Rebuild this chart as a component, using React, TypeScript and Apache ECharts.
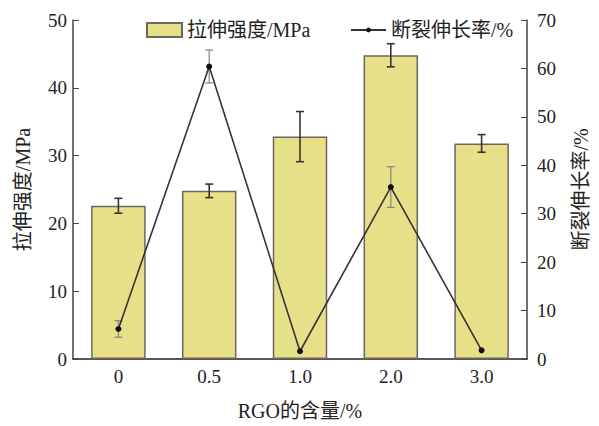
import React, { useEffect, useRef } from "react";
import * as echarts from "echarts";

const categories = ["0", "0.5", "1.0", "2.0", "3.0"];
const strength = [22.6, 24.8, 32.8, 44.8, 31.8];
const strengthErr = [1.1, 1.0, 3.7, 1.7, 1.3];
const elongation = [6.2, 60.4, 1.6, 35.5, 1.8];
const elongationErr = [1.7, 3.4, 0, 4.2, 0];
const leftTicks = { min: 0, max: 50, interval: 10 };
const rightTicks = { min: 0, max: 70, interval: 10 };

const FONT = '"Liberation Serif", "Times New Roman", "Noto Sans CJK SC", serif';

function errRender(color: string, width: number, cap: number) {
  return (params: any, api: any) => {
    const x = api.value(0);
    const v = api.value(1);
    const e = api.value(2);
    if (!e) return null;
    const hi = api.coord([x, v + e]);
    const lo = api.coord([x, v - e]);
    const style = { stroke: color, lineWidth: width };
    return {
      type: "group",
      children: [
        { type: "line", shape: { x1: hi[0], y1: hi[1], x2: lo[0], y2: lo[1] }, style },
        { type: "line", shape: { x1: hi[0] - cap, y1: hi[1], x2: hi[0] + cap, y2: hi[1] }, style },
        { type: "line", shape: { x1: lo[0] - cap, y1: lo[1], x2: lo[0] + cap, y2: lo[1] }, style },
      ],
    };
  };
}

export default function App() {
  const ref = useRef<HTMLDivElement>(null);
  useEffect(() => {
    if (!ref.current) return;
    const chart = echarts.init(ref.current, undefined, { renderer: "svg" });
    const legendText = { fontFamily: FONT, fontSize: 20, color: "#222" };
    chart.setOption({
      animation: false,
      textStyle: { fontFamily: FONT },
      legend: [
        {
          left: 141,
          top: 15,
          itemWidth: 35,
          itemHeight: 14,
          textStyle: legendText,
          data: [{ name: "拉伸强度/MPa", icon: "rect" }],
        },
        {
          left: 345,
          top: 15,
          itemWidth: 35,
          itemHeight: 6,
          textStyle: legendText,
          data: [{ name: "断裂伸长率/%" }],
        },
      ],
      grid: { left: 73, right: 62, top: 20, bottom: 62 },
      xAxis: {
        type: "category",
        data: categories,
        name: "RGO的含量/%",
        nameLocation: "middle",
        nameGap: 42,
        nameTextStyle: { fontFamily: FONT, fontSize: 20, color: "#222" },
        axisLine: { lineStyle: { color: "#222", width: 1.5 } },
        axisTick: { show: false },
        axisLabel: { fontFamily: FONT, fontSize: 19, color: "#222", margin: 8 },
      },
      yAxis: [
        {
          type: "value",
          ...leftTicks,
          name: "拉伸强度/MPa",
          nameLocation: "middle",
          nameRotate: 90,
          nameGap: 40,
          nameTextStyle: { fontFamily: FONT, fontSize: 20, color: "#222" },
          axisLine: { show: true, lineStyle: { color: "#444", width: 1.5 } },
          axisTick: { show: true, inside: true, length: 6, lineStyle: { color: "#444" } },
          axisLabel: { fontFamily: FONT, fontSize: 19, color: "#222", margin: 6 },
          splitLine: { show: false },
        },
        {
          type: "value",
          ...rightTicks,
          position: "right",
          name: "断裂伸长率/%",
          nameLocation: "middle",
          nameRotate: 90,
          nameGap: 44,
          nameTextStyle: { fontFamily: FONT, fontSize: 20, color: "#222" },
          axisLine: { show: true, lineStyle: { color: "#444", width: 1.5 } },
          axisTick: { show: true, inside: true, length: 6, lineStyle: { color: "#444" } },
          axisLabel: { fontFamily: FONT, fontSize: 19, color: "#222", margin: 10 },
          splitLine: { show: false },
        },
      ],
      series: [
        {
          name: "拉伸强度/MPa",
          type: "bar",
          data: strength,
          barWidth: "60%",
          itemStyle: { color: "#e6e089", borderColor: "#6e665a", borderWidth: 1.5 },
        },
        {
          name: "bar-err",
          type: "custom",
          data: categories.map((c, i) => [i, strength[i], strengthErr[i]]),
          renderItem: errRender("#3b332d", 1.6, 4),
          z: 5,
        },
        {
          name: "断裂伸长率/%",
          type: "line",
          yAxisIndex: 1,
          data: elongation,
          symbol: "circle",
          symbolSize: 6,
          lineStyle: { color: "#3a3232", width: 1.6 },
          itemStyle: { color: "#111" },
          z: 6,
        },
        {
          name: "line-err",
          type: "custom",
          yAxisIndex: 1,
          data: categories.map((c, i) => [i, elongation[i], elongationErr[i]]),
          renderItem: errRender("#8a8280", 1.2, 4),
          z: 4,
        },
      ],
    });
    return () => chart.dispose();
  }, []);
  return <div ref={ref} style={{ width: 599, height: 426, position: "absolute", left: 0, top: 0 }} />;
}
